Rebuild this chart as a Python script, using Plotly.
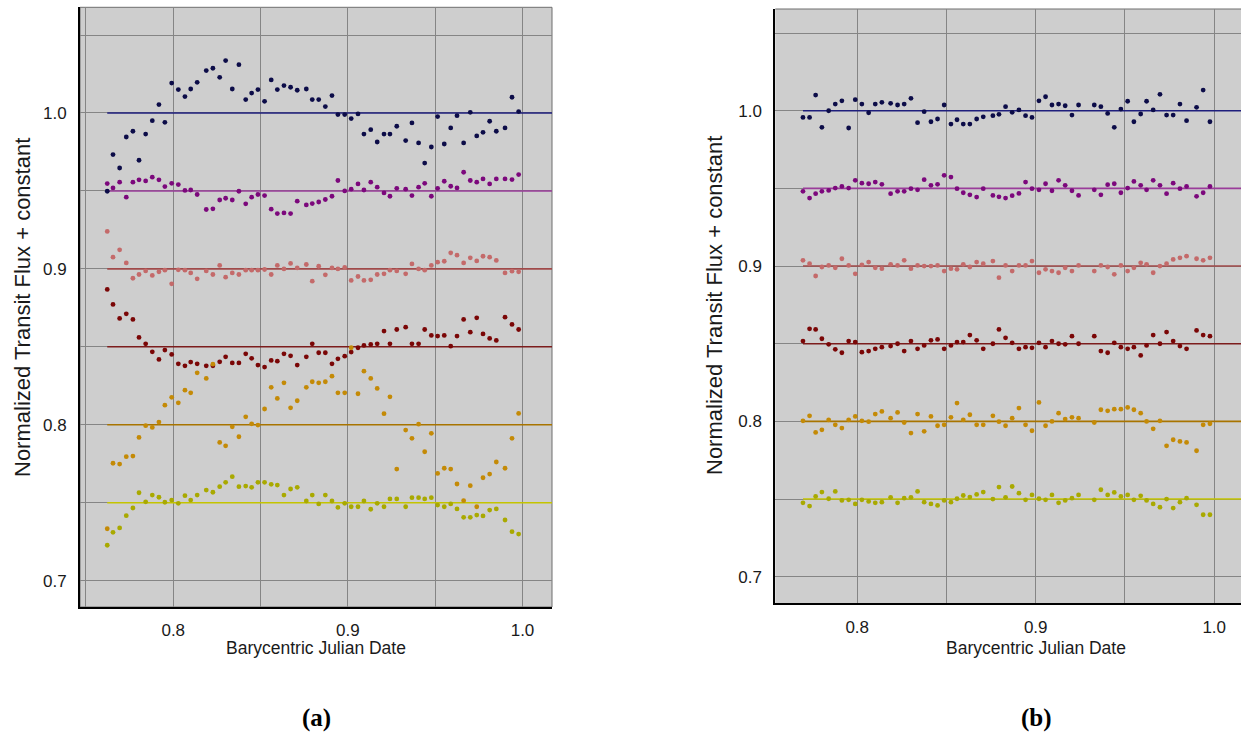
import plotly.graph_objects as go

# ---------------- Panel (a) data ----------------
xa = [0.7622, 0.7655, 0.7693, 0.7731, 0.7769, 0.7804, 0.7842, 0.7880, 0.7918, 0.7952, 0.7991, 0.8029, 0.8067, 0.8100, 0.8137,
      0.8189, 0.8227, 0.8266, 0.8300, 0.8338, 0.8376, 0.8415, 0.8449, 0.8485, 0.8523, 0.8561, 0.8596, 0.8634, 0.8672, 0.8710,
      0.8762, 0.8796, 0.8833, 0.8871, 0.8909, 0.8943, 0.8982, 0.9019, 0.9058, 0.9092, 0.9131, 0.9168, 0.9207, 0.9241, 0.9280,
      0.9331, 0.9367, 0.9405, 0.9440, 0.9478, 0.9514, 0.9552, 0.9589, 0.9625, 0.9663, 0.9701, 0.9738, 0.9774, 0.9812, 0.9850,
      0.9900, 0.9940, 0.9978]

a_navy = [0.9498, 0.9733, 0.9647, 0.9846, 0.9883, 0.9697, 0.9865, 0.9951, 1.0054, 0.9940, 1.0192, 1.0150, 1.0105, 1.0154, 1.0197,
          1.0272, 1.0287, 1.0229, 1.0336, 1.0154, 1.0310, 1.0086, 1.0128, 1.0150, 1.0075, 1.0212, 1.0150, 1.0176, 1.0165, 1.0146,
          1.0154, 1.0086, 1.0086, 1.0041, 1.0112, 0.9990, 0.9990, 0.9964, 0.9994, 0.9865, 0.9893, 0.9814, 0.9865, 0.9865, 0.9915,
          0.9823, 0.9936, 0.9808, 0.9679, 0.9782, 0.9977, 0.9801, 0.9904, 0.9983, 0.9808, 1.0004, 0.9853, 0.9876, 0.9947, 0.9883,
          0.9904, 1.0101, 1.0009]
a_purple = [0.9547, 0.9519, 0.9556, 0.9460, 0.9556, 0.9571, 0.9564, 0.9588, 0.9571, 0.9528, 0.9549, 0.9541, 0.9503, 0.9506, 0.9477,
            0.9381, 0.9385, 0.9442, 0.9453, 0.9442, 0.9498, 0.9417, 0.9460, 0.9477, 0.9470, 0.9383, 0.9355, 0.9359, 0.9355, 0.9434,
            0.9410, 0.9419, 0.9429, 0.9445, 0.9466, 0.9567, 0.9500, 0.9511, 0.9545, 0.9506, 0.9556, 0.9524, 0.9487, 0.9466, 0.9517,
            0.9511, 0.9470, 0.9524, 0.9549, 0.9466, 0.9517, 0.9562, 0.9530, 0.9519, 0.9620, 0.9567, 0.9556, 0.9577, 0.9545, 0.9577,
            0.9577, 0.9573, 0.9605]
a_pink = [0.9240, 0.9075, 0.9122, 0.9038, 0.8940, 0.8964, 0.8987, 0.8958, 0.8981, 0.8992, 0.8904, 0.8994, 0.8992, 0.8974, 0.8936,
          0.8987, 0.8964, 0.9022, 0.8947, 0.8974, 0.8964, 0.8992, 0.8992, 0.8992, 0.8996, 0.8964, 0.9022, 0.9000, 0.9035, 0.9006,
          0.9028, 0.8921, 0.9017, 0.8962, 0.9006, 0.9000, 0.9009, 0.8926, 0.8951, 0.8926, 0.8930, 0.8964, 0.8968, 0.8992, 0.8987,
          0.8968, 0.9032, 0.9000, 0.8992, 0.9022, 0.9043, 0.9049, 0.9103, 0.9088, 0.9038, 0.9071, 0.9051, 0.9081, 0.9075, 0.9054,
          0.8974, 0.8985, 0.8981]
a_darkred = [0.8868, 0.8772, 0.8682, 0.8712, 0.8676, 0.8560, 0.8519, 0.8468, 0.8419, 0.8479, 0.8451, 0.8391, 0.8378, 0.8402, 0.8391,
             0.8378, 0.8378, 0.8404, 0.8436, 0.8397, 0.8397, 0.8455, 0.8426, 0.8383, 0.8370, 0.8413, 0.8408, 0.8455, 0.8442, 0.8383,
             0.8436, 0.8519, 0.8462, 0.8462, 0.8391, 0.8423, 0.8440, 0.8466, 0.8494, 0.8509, 0.8515, 0.8519, 0.8601, 0.8519, 0.8611,
             0.8626, 0.8519, 0.8519, 0.8611, 0.8573, 0.8569, 0.8573, 0.8504, 0.8569, 0.8676, 0.8594, 0.8686, 0.8583, 0.8554, 0.8541,
             0.8690, 0.8644, 0.8611]
a_gold = [0.7333, 0.7753, 0.7748, 0.7795, 0.7799, 0.7919, 0.7994, 0.7983, 0.8017, 0.8126, 0.8176, 0.8141, 0.8222, 0.8205, 0.8333,
          0.8297, 0.8389, 0.7887, 0.7865, 0.7987, 0.7923, 0.8051, 0.8006, 0.7998, 0.8101, 0.8240, 0.8169, 0.8269, 0.8109, 0.8154,
          0.8240, 0.8276, 0.8269, 0.8276, 0.8312, 0.8205, 0.8205, 0.8494, 0.8199, 0.8344, 0.8297, 0.8233, 0.8071, 0.8179, 0.7716,
          0.7966, 0.7913, 0.8004, 0.7827, 0.7945, 0.7688, 0.7721, 0.7716, 0.7620, 0.7513, 0.7609, 0.7474, 0.7660, 0.7684, 0.7761,
          0.7721, 0.7913, 0.8073]
a_olive = [0.7227, 0.7310, 0.7338, 0.7417, 0.7466, 0.7564, 0.7506, 0.7549, 0.7535, 0.7503, 0.7517, 0.7496, 0.7545, 0.7517, 0.7549,
           0.7581, 0.7567, 0.7603, 0.7631, 0.7667, 0.7603, 0.7607, 0.7599, 0.7631, 0.7631, 0.7618, 0.7613, 0.7549, 0.7588, 0.7599,
           0.7511, 0.7549, 0.7492, 0.7549, 0.7511, 0.7470, 0.7496, 0.7474, 0.7474, 0.7511, 0.7458, 0.7496, 0.7474, 0.7524, 0.7524,
           0.7474, 0.7532, 0.7532, 0.7524, 0.7532, 0.7485, 0.7474, 0.7492, 0.7460, 0.7406, 0.7406, 0.7421, 0.7415, 0.7453, 0.7460,
           0.7389, 0.7314, 0.7299]

# ---------------- Panel (b) data ----------------
xb = [0.7696, 0.7733, 0.7767, 0.7802, 0.7840, 0.7877, 0.7914, 0.7952, 0.7989, 0.8026, 0.8064, 0.8101, 0.8138,
      0.8187, 0.8226, 0.8263, 0.8301, 0.8338, 0.8375, 0.8413, 0.8450, 0.8487, 0.8525, 0.8559, 0.8594, 0.8631, 0.8669, 0.8706,
      0.8760, 0.8794, 0.8831, 0.8868, 0.8906, 0.8943, 0.8979, 0.9018, 0.9055, 0.9091, 0.9128, 0.9165, 0.9203, 0.9240,
      0.9328, 0.9365, 0.9403, 0.9440, 0.9477, 0.9515, 0.9550, 0.9588, 0.9621, 0.9658, 0.9696, 0.9733, 0.9770, 0.9808, 0.9845,
      0.9901, 0.9938, 0.9976]

b_navy = [0.9957, 0.9957, 1.0101, 0.9893, 1.0000, 1.0043, 1.0064, 0.9889, 1.0071, 1.0043, 0.9987, 1.0043, 1.0054,
          1.0048, 1.0037, 1.0043, 1.0080, 0.9923, 0.9994, 0.9929, 0.9947, 1.0037, 0.9914, 0.9942, 0.9914, 0.9914, 0.9947, 0.9961,
          0.9968, 0.9977, 1.0026, 0.9990, 1.0005, 0.9968, 0.9957, 1.0064, 1.0090, 1.0037, 1.0043, 1.0032, 0.9972, 1.0037,
          1.0037, 1.0026, 0.9983, 0.9893, 1.0011, 1.0061, 0.9929, 0.9979, 1.0061, 1.0005, 1.0106, 0.9972, 0.9972, 1.0043, 0.9936,
          1.0022, 1.0133, 0.9929]
b_purple = [0.9481, 0.9438, 0.9466, 0.9481, 0.9487, 0.9502, 0.9513, 0.9502, 0.9552, 0.9534, 0.9530, 0.9541, 0.9526,
            0.9466, 0.9481, 0.9481, 0.9498, 0.9491, 0.9556, 0.9520, 0.9526, 0.9584, 0.9573, 0.9498, 0.9472, 0.9459, 0.9444, 0.9498,
            0.9455, 0.9446, 0.9438, 0.9453, 0.9468, 0.9541, 0.9498, 0.9491, 0.9530, 0.9485, 0.9552, 0.9520, 0.9485, 0.9455,
            0.9491, 0.9459, 0.9524, 0.9530, 0.9472, 0.9502, 0.9545, 0.9520, 0.9491, 0.9552, 0.9520, 0.9466, 0.9534, 0.9498, 0.9513,
            0.9449, 0.9472, 0.9513]
b_pink = [0.9037, 0.9015, 0.8936, 0.8994, 0.9004, 0.8989, 0.9047, 0.9004, 0.8950, 0.9008, 0.9026, 0.8989, 0.8983,
          0.9011, 0.9004, 0.9037, 0.8983, 0.9004, 0.9000, 0.9000, 0.9004, 0.8968, 0.8983, 0.8979, 0.9011, 0.8994, 0.9026, 0.9015,
          0.9032, 0.8925, 0.9004, 0.8968, 0.9004, 0.9004, 0.9032, 0.8957, 0.8979, 0.8968, 0.8957, 0.8989, 0.8968, 0.9004,
          0.8968, 0.9004, 0.8994, 0.8947, 0.9004, 0.8968, 0.8989, 0.9021, 0.9011, 0.8957, 0.9000, 0.9015, 0.9043, 0.9053, 0.9064,
          0.9047, 0.9037, 0.9053]
b_darkred = [0.8517, 0.8596, 0.8592, 0.8532, 0.8496, 0.8464, 0.8442, 0.8517, 0.8511, 0.8446, 0.8453, 0.8467, 0.8478,
             0.8485, 0.8500, 0.8453, 0.8517, 0.8467, 0.8489, 0.8522, 0.8528, 0.8467, 0.8489, 0.8511, 0.8511, 0.8556, 0.8522, 0.8467,
             0.8500, 0.8592, 0.8538, 0.8506, 0.8467, 0.8478, 0.8474, 0.8506, 0.8478, 0.8517, 0.8500, 0.8496, 0.8549, 0.8500,
             0.8549, 0.8453, 0.8442, 0.8506, 0.8478, 0.8467, 0.8478, 0.8425, 0.8489, 0.8556, 0.8500, 0.8575, 0.8517, 0.8485, 0.8467,
             0.8586, 0.8556, 0.8549]
b_gold = [0.8004, 0.8036, 0.7929, 0.7946, 0.8010, 0.7978, 0.7957, 0.8010, 0.8032, 0.8004, 0.7998, 0.8047, 0.8064,
          0.8021, 0.8058, 0.7993, 0.7925, 0.8047, 0.7936, 0.8032, 0.7972, 0.7978, 0.8026, 0.8118, 0.8010, 0.8043, 0.7978, 0.7978,
          0.8036, 0.7998, 0.7972, 0.8021, 0.8086, 0.7978, 0.7940, 0.8122, 0.7972, 0.8000, 0.8053, 0.8015, 0.8026, 0.8021,
          0.7993, 0.8075, 0.8068, 0.8079, 0.8079, 0.8090, 0.8075, 0.8053, 0.8000, 0.7952, 0.8004, 0.7843, 0.7882, 0.7871, 0.7865,
          0.7811, 0.7978, 0.7985]
b_olive = [0.7476, 0.7455, 0.7517, 0.7545, 0.7502, 0.7549, 0.7491, 0.7495, 0.7469, 0.7495, 0.7485, 0.7476, 0.7480,
           0.7511, 0.7476, 0.7506, 0.7511, 0.7549, 0.7480, 0.7469, 0.7459, 0.7491, 0.7480, 0.7502, 0.7523, 0.7513, 0.7530, 0.7545,
           0.7500, 0.7577, 0.7511, 0.7581, 0.7538, 0.7495, 0.7527, 0.7502, 0.7495, 0.7527, 0.7476, 0.7491, 0.7506, 0.7527,
           0.7495, 0.7560, 0.7527, 0.7543, 0.7517, 0.7527, 0.7495, 0.7521, 0.7491, 0.7469, 0.7448, 0.7500, 0.7442, 0.7480, 0.7506,
           0.7463, 0.7399, 0.7399]

levels = [1.00, 0.95, 0.90, 0.85, 0.80, 0.75]
marker_colors = ["#0c0c48", "#7c087c", "#c46a6a", "#7a0606", "#c48a06", "#a9a900"]
line_colors = ["#1e1e7c", "#9a3c9a", "#a04a4a", "#7c1c1c", "#a87400", "#c4c400"]
x_ticks = [0.8, 0.9, 1.0]
y_ticks = [0.7, 0.8, 0.9, 1.0]

xrange_a = [0.7466, 1.0169]
yrange_a = [0.6831, 1.0678]
xrange_b = [0.7541, 1.0150]
yrange_b = [0.6829, 1.0655]

W, H = 1241, 747
fig = go.Figure()

panels = [
    ("x", "y", xa, [a_navy, a_purple, a_pink, a_darkred, a_gold, a_olive], xrange_a),
    ("x2", "y2", xb, [b_navy, b_purple, b_pink, b_darkred, b_gold, b_olive], xrange_b),
]
for xr, yr, xs, series, xrng in panels:
    for lev, lc in zip(levels, line_colors):
        fig.add_trace(go.Scatter(x=[xs[0], xrng[1]], y=[lev, lev], mode="lines",
                                 line=dict(color=lc, width=1.6), xaxis=xr, yaxis=yr,
                                 showlegend=False, hoverinfo="skip"))
    for ys, mc in zip(series, marker_colors):
        fig.add_trace(go.Scatter(x=xs, y=ys, mode="markers",
                                 marker=dict(color=mc, size=4.8, symbol="circle"),
                                 xaxis=xr, yaxis=yr, showlegend=False))

grid = "#858585"
tickfont = dict(family="Arial, Liberation Sans, sans-serif", size=17, color="#1a1a1a")

def xax(domain, rng, anchor):
    return dict(domain=domain, range=rng, anchor=anchor, tickvals=x_ticks, ticktext=[f"{v:.1f}" for v in x_ticks],
                showgrid=True, gridcolor=grid, gridwidth=1, zeroline=False,
                minor=dict(dtick=0.05, tick0=0.75, showgrid=True, gridcolor=grid, gridwidth=1),
                showline=True, linecolor="black", linewidth=2, ticks="", ticklabelstandoff=7,
                tickfont=tickfont, fixedrange=True)

def yax(domain, rng, anchor):
    return dict(domain=domain, range=rng, anchor=anchor, tickvals=y_ticks, ticktext=[f"{v:.1f}" for v in y_ticks],
                showgrid=True, gridcolor=grid, gridwidth=1, zeroline=False,
                minor=dict(dtick=0.05, tick0=0.7, showgrid=True, gridcolor=grid, gridwidth=1),
                showline=True, linecolor="black", linewidth=2, ticks="", ticklabelstandoff=8,
                tickfont=tickfont, fixedrange=True)

fig.update_layout(
    width=W, height=H,
    margin=dict(l=0, r=0, t=0, b=0),
    paper_bgcolor="white",
    plot_bgcolor="#cecece",
    xaxis=xax([80 / W, 552 / W], xrange_a, "y"),
    yaxis=yax([1 - 607 / H, 1 - 7.3 / H], yrange_a, "x"),
    xaxis2=xax([775.3 / W, 1.0], xrange_b, "y2"),
    yaxis2=yax([1 - 603.3 / H, 1 - 9 / H], yrange_b, "x2"),
)

# thin gray frame (top / right)
fig.add_shape(type="rect", xref="x domain", yref="y domain", x0=0, x1=1, y0=0, y1=1,
              line=dict(color="#6e6e6e", width=1), layer="below")
fig.add_shape(type="line", xref="x2 domain", yref="y2 domain", x0=0, x1=1, y0=1, y1=1,
              line=dict(color="#6e6e6e", width=1), layer="below")

title_font = dict(family="Arial, Liberation Sans, sans-serif", size=17.5, color="#1a1a1a")
ytitle_font = dict(family="Arial, Liberation Sans, sans-serif", size=22, color="#1a1a1a")
label_font = dict(family="Times New Roman, Liberation Serif, serif", size=25, color="black")
annots = [
    dict(text="Barycentric Julian Date", x=316 / W, y=1 - 648 / H, font=title_font),
    dict(text="Barycentric Julian Date", x=1036 / W, y=1 - 648 / H, font=title_font),
    dict(text="Normalized Transit Flux + constant", x=22 / W, y=1 - 308 / H, textangle=-90, font=ytitle_font),
    dict(text="Normalized Transit Flux + constant", x=714 / W, y=1 - 306 / H, textangle=-90, font=ytitle_font),
    dict(text="<b>(a)</b>", x=316 / W, y=1 - 718 / H, font=label_font),
    dict(text="<b>(b)</b>", x=1036 / W, y=1 - 718 / H, font=label_font),
]
for a in annots:
    fig.add_annotation(xref="paper", yref="paper", xanchor="center", yanchor="middle", showarrow=False, **a)

fig.write_html("out.html", config={"displayModeBar": False, "staticPlot": True},
               post_script="document.body.style.margin='0px';document.body.style.overflow='hidden';")
